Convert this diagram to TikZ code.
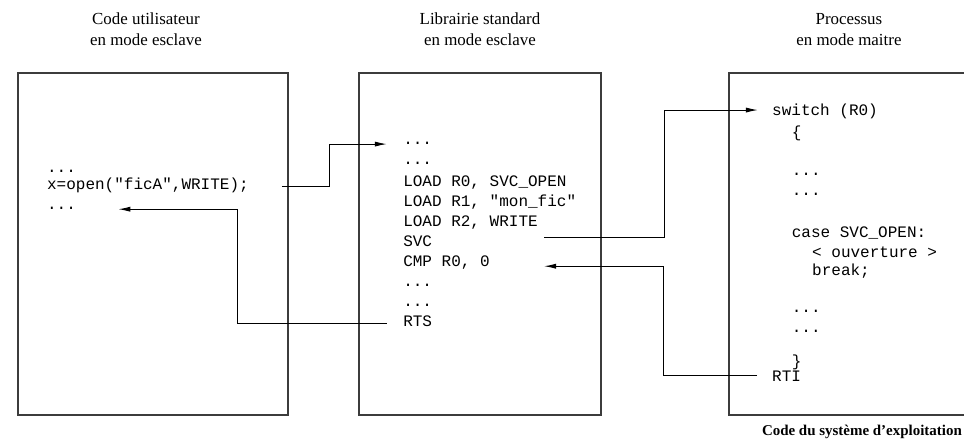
\documentclass[tikz,border=0pt]{standalone}
\usepackage{fontspec}
\setmainfont{Liberation Serif}
\setmonofont{Liberation Mono}
\usetikzlibrary{arrows.meta}

\definecolor{ccboite}{RGB}{60,60,60}
\definecolor{cctrait}{RGB}{0,0,0}

\begin{document}
\begin{tikzpicture}[
    boite/.style={draw=ccboite, line width=1.1pt},
    code/.style={font=\fontsize{10.7}{12}\ttfamily, anchor=base west, inner sep=0pt, text height=7pt, text depth=2pt},
    titre/.style={font=\fontsize{11.3}{14}\selectfont, align=center},
    trait/.style={draw=cctrait, line width=0.65pt},
    fleche/.style={trait, -{Latex[length=8pt,width=3.4pt]}}
  ]

  % Bounding box of the scheme
  \useasboundingbox (0,0) rectangle (22.654,10.434);

  %%%%%%%%%%%%%%%%%%%%%%%%%%%%%%%%% Les trois zones %%%%%%%%%%%%%%%%%%%%%%%%%%%%%%%%%%%%
  \draw[boite] (0.42,0.68) rectangle (6.77,8.72);
  \draw[boite] (8.44,0.68) rectangle (14.12,8.72);
  \draw[boite] (22.654,8.72) -- (17.13,8.72) -- (17.13,0.68) -- (22.654,0.68);

  \draw (3.43,9.74) node[titre] (t1) {Code utilisateur\\en mode esclave};
  \draw (11.28,9.74) node[titre] (t2) {Librairie standard\\en mode esclave};
  \draw (19.95,9.74) node[titre] (t3) {Processus\\en mode maitre};
  \draw (22.61,0.28) node[anchor=east, inner sep=0pt, font=\bfseries] (os) {Code du système d'exploitation};

  %%%%%%%%%%%%%%%%%%%%%%%%%%%%%%%%% Code utilisateur %%%%%%%%%%%%%%%%%%%%%%%%%%%%%%%%%%%%
  \draw (1.10,6.37) node[code] (u1) {...};
  \draw (1.10,5.97) node[code] (u2) {x=open("ficA",WRITE);};
  \draw (1.10,5.52) node[code] (u3) {...};

  %%%%%%%%%%%%%%%%%%%%%%%%%%%%%%%%% Librairie %%%%%%%%%%%%%%%%%%%%%%%%%%%%%%%%%%%%
  \draw (9.47,7.03) node[code] (l1) {...};
  \draw (9.47,6.56) node[code] (l2) {...};
  \draw (9.47,6.04) node[code] (l3) {LOAD R0, SVC\_OPEN};
  \draw (9.47,5.57) node[code] (l4) {LOAD R1, "mon\_fic"};
  \draw (9.47,5.10) node[code] (l5) {LOAD R2, WRITE};
  \draw (9.47,4.63) node[code] (l6) {SVC};
  \draw (9.47,4.16) node[code] (l7) {CMP R0, 0};
  \draw (9.47,3.71) node[code] (l8) {...};
  \draw (9.47,3.24) node[code] (l9) {...};
  \draw (9.47,2.75) node[code] (l10) {RTS};

  %%%%%%%%%%%%%%%%%%%%%%%%%%%%%%%%% Processus maitre %%%%%%%%%%%%%%%%%%%%%%%%%%%%%%%%%%%%
  \draw (18.14,7.71) node[code] (p1) {switch (R0)};
  \draw (18.60,7.21) node[code] (p2) {\{};
  \draw (18.60,6.32) node[code] (p3) {...};
  \draw (18.60,5.85) node[code] (p4) {...};
  \draw (18.60,4.86) node[code] (p5) {case SVC\_OPEN:};
  \draw (19.08,4.39) node[code] (p6) {< ouverture >};
  \draw (19.08,3.97) node[code] (p7) {break;};
  \draw (18.60,3.08) node[code] (p8) {...};
  \draw (18.60,2.63) node[code] (p9) {...};
  \draw (18.60,1.81) node[code] (p10) {\}};
  \draw (18.14,1.46) node[code] (p11) {RTI};

  %%%%%%%%%%%%%%%%%%%%%%%%%%%%%%%%% Appels et retours %%%%%%%%%%%%%%%%%%%%%%%%%%%%%%%%%%%%
  \draw[fleche] ([xshift=0.77cm]u2.east) -- ++(1.13,0) |- ([xshift=-0.38cm,yshift=-0.07cm]l1.west);
  \draw[fleche] ([xshift=-0.38cm]l10.west) -- ++(-3.50,0) |- ([xshift=0.99cm,yshift=-0.09cm]u3.east);
  \draw[fleche] ([xshift=2.63cm,yshift=0.14cm]l6.east) -- ++(2.82,0) |- ([xshift=-0.33cm,yshift=0.05cm]p1.west);
  \draw[fleche] ([xshift=-0.35cm,yshift=0.07cm]p11.west) -- ++(-2.21,0) |- ([xshift=1.27cm,yshift=-0.07cm]l7.east);

\end{tikzpicture}
\end{document}
